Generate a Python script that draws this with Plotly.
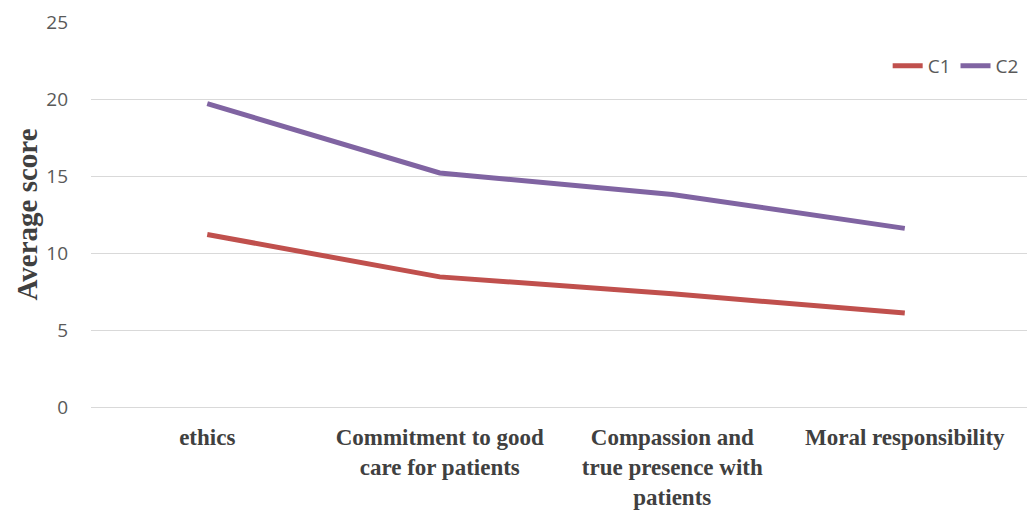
import plotly.graph_objects as go

categories = ["ethics", "Commitment to good<br>care for patients",
              "Compassion and<br>true presence with<br>patients", "Moral responsibility"]
c1 = [11.2, 8.45, 7.35, 6.1]
c2 = [19.7, 15.2, 13.8, 11.6]
y_ticks = [0, 5, 10, 15, 20, 25]

fig = go.Figure()
fig.add_trace(go.Scatter(x=categories, y=c1, mode="lines", name="C1",
                         line=dict(color="#C0504D", width=5)))
fig.add_trace(go.Scatter(x=categories, y=c2, mode="lines", name="C2",
                         line=dict(color="#8064A2", width=5)))

fig.update_layout(
    width=1027, height=502,
    margin=dict(l=83, r=0, t=14, b=103),
    paper_bgcolor="white", plot_bgcolor="white",
    showlegend=True,
    legend=dict(orientation="h", x=0.988, xanchor="right", y=0.886, yanchor="middle",
                font=dict(family="Open Sans", size=19, color="#595959"),
                bgcolor="rgba(0,0,0,0)", itemwidth=30, tracegroupgap=0),
    xaxis=dict(type="category", range=[-0.5, 3.56], showgrid=False, showline=False,
               zeroline=False, automargin=False,
               tickfont=dict(family="Liberation Serif", size=23, color="#404040", weight="bold"),
               ticks="", ticklabelstandoff=14),
    yaxis=dict(range=[0, 25], tickvals=y_ticks, showgrid=True, gridcolor="#D9D9D9",
               gridwidth=1, zeroline=True, zerolinecolor="#D9D9D9", zerolinewidth=1,
               showline=False, automargin=False,
               tickfont=dict(family="Open Sans", size=19, color="#595959"),
               ticklabelstandoff=22,
               title=dict(text="Average score",
                          font=dict(family="Liberation Serif", size=29, color="#404040", weight="bold"),
                          standoff=0)),
)

fig.write_html("out.html")
